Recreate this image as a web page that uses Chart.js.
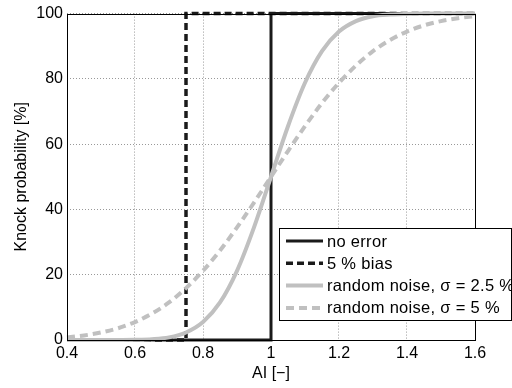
<!DOCTYPE html>
<html>
<head>
<meta charset="utf-8">
<script src="https://cdn.jsdelivr.net/npm/chart.js@4"></script>
<style>
  html, body { margin: 0; padding: 0; background: #fff; }
  #wrap { width: 512px; height: 388px; position: relative; }
</style>
</head>
<body>
<div id="wrap"><canvas id="knock" width="512" height="388"></canvas></div>
<script>
// AI values (x) and knock probability [%]
const xSmooth = [0.4, 0.45, 0.5, 0.55, 0.6, 0.65, 0.7, 0.75, 0.8, 0.85, 0.9, 0.95, 1.0,
  1.05, 1.1, 1.15, 1.2, 1.25, 1.3, 1.35, 1.4, 1.45, 1.5, 1.55, 1.6]
const noise25 = [0, 0, 0, 0.02, 0.07, 0.26, 0.8, 2.3, 5.5, 11.5, 21.2, 34.5, 50,
  65.5, 78.8, 88.5, 94.5, 97.7, 99.2, 99.7, 99.9, 100, 100, 100, 100]
const noise5 = [0.8, 1.4, 2.3, 3.6, 5.5, 8.1, 11.5, 15.9, 21.2, 27.4, 34.5, 42.1, 50,
  57.9, 65.5, 72.6, 78.8, 84.1, 88.5, 91.9, 94.5, 96.4, 97.7, 98.6, 99.2]

const xNoError = [0.4, 1.0, 1.0, 1.6]
const yNoError = [0, 0, 100, 100]
const xBias = [0.4, 0.75, 0.75, 1.6]
const yBias = [0, 0, 100, 100]

const seriesLabels = ['no error', '5 % bias', 'random noise, σ = 2.5 %', 'random noise, σ = 5 %']
const xTicks = [0.4, 0.6, 0.8, 1, 1.2, 1.4, 1.6]
const yTicks = [0, 20, 40, 60, 80, 100]

const BLACK = '#1a1a1a'
const GREY = '#c0c0c0'
const FONT = 'Liberation Sans, Arial, sans-serif'

const pts = (xs, ys) => xs.map((x, i) => ({ x, y: ys[i] }))

// box round the axes + legend inside the plot, MATLAB-like
const framePlugin = {
  id: 'frame',
  afterDatasetsDraw(chart) {
    const { ctx, chartArea: a } = chart
    ctx.save()
    ctx.strokeStyle = '#000'
    ctx.lineWidth = 1
    ctx.strokeRect(Math.round(a.left) + 0.5, Math.round(a.top) + 0.5,
      Math.round(a.right - a.left), Math.round(a.bottom - a.top))
    ctx.restore()
  },
  afterDraw(chart) {
    const { ctx } = chart
    const box = { left: 279, top: 228, right: 511, bottom: 320 }
    ctx.save()
    ctx.fillStyle = '#fff'
    ctx.fillRect(box.left, box.top, box.right - box.left, box.bottom - box.top)
    ctx.strokeStyle = '#000'
    ctx.lineWidth = 1
    ctx.strokeRect(box.left + 0.5, box.top + 0.5, box.right - box.left, box.bottom - box.top)
    ctx.font = '16.5px ' + FONT
    ctx.letterSpacing = '0.3px'
    ctx.textBaseline = 'middle'
    chart.data.datasets.forEach((ds, i) => {
      const y = 241 + i * 22.3
      ctx.strokeStyle = ds.borderColor
      ctx.lineWidth = ds.borderWidth
      ctx.setLineDash(ds.borderDash || [])
      ctx.beginPath()
      ctx.moveTo(286, y)
      ctx.lineTo(323, y)
      ctx.stroke()
      ctx.setLineDash([])
      ctx.fillStyle = '#000'
      ctx.fillText(ds.label, 327, y + 1)
    })
    ctx.restore()
  }
}

new Chart(document.getElementById('knock'), {
  type: 'line',
  data: {
    datasets: [
      { label: seriesLabels[0], data: pts(xNoError, yNoError), borderColor: BLACK, borderWidth: 3, order: 2, clip: 4 },
      { label: seriesLabels[1], data: pts(xBias, yBias), borderColor: BLACK, borderWidth: 3.5, borderDash: [7, 4], order: 2, clip: 4 },
      { label: seriesLabels[2], data: pts(xSmooth, noise25), borderColor: GREY, borderWidth: 4, cubicInterpolationMode: 'monotone', order: 1, clip: 4 },
      { label: seriesLabels[3], data: pts(xSmooth, noise5), borderColor: GREY, borderWidth: 4, borderDash: [8, 5], cubicInterpolationMode: 'monotone', order: 1, clip: 4 },
    ]
  },
  options: {
    responsive: false,
    animation: false,
    layout: { padding: { top: 10, right: 37, left: 0, bottom: 0 } },
    elements: { point: { radius: 0 }, line: { borderCapStyle: 'butt' } },
    plugins: { legend: { display: false }, tooltip: { enabled: false } },
    scales: {
      x: {
        type: 'linear', min: 0.4, max: 1.6,
        afterBuildTicks: (s) => { s.ticks = xTicks.map(v => ({ value: v })) },
        afterFit: (s) => { s.height = 48 },
        ticks: { color: '#000', font: { family: FONT, size: 16 }, padding: 4,
          maxRotation: 0, callback: (v) => String(v) },
        grid: { color: '#999', drawTicks: false, lineWidth: 1 },
        border: { display: false, dash: [1, 2] },
        title: { display: true, text: 'AI [−]', color: '#000', font: { family: FONT, size: 16 }, padding: { top: 0, bottom: 5 } }
      },
      y: {
        min: 0, max: 100,
        afterBuildTicks: (s) => { s.ticks = yTicks.map(v => ({ value: v })) },
        afterFit: (s) => { s.width = 67 },
        ticks: { color: '#000', font: { family: FONT, size: 16 }, padding: 4 },
        grid: { color: '#999', drawTicks: false, lineWidth: 1 },
        border: { display: false, dash: [1, 2] },
        title: { display: true, text: 'Knock probability [%]', color: '#000', font: { family: FONT, size: 16 }, padding: { top: 12, bottom: 0 } }
      }
    }
  },
  plugins: [framePlugin]
})
</script>
</body>
</html>
